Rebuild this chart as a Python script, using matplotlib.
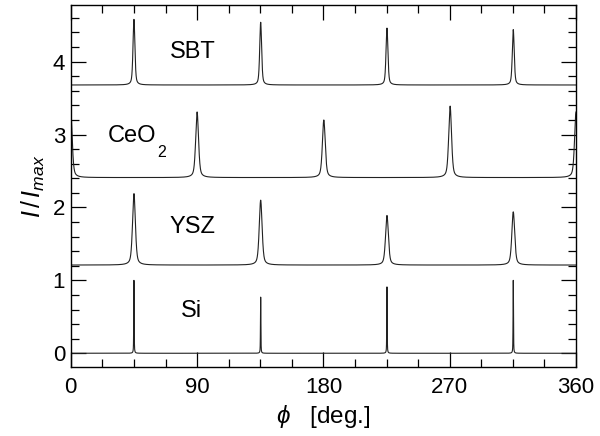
import numpy as np
import matplotlib
matplotlib.use("Agg")
import matplotlib.pyplot as plt
from matplotlib.ticker import MultipleLocator

plt.rcParams["font.family"] = "Liberation Sans"
plt.rcParams["mathtext.fontset"] = "custom"
plt.rcParams["mathtext.it"] = "Liberation Sans:italic"
plt.rcParams["mathtext.rm"] = "Liberation Sans"

# ---- peak data (deg, I/Imax above each baseline) ----
si_pos = [45.0, 135.3, 225.3, 315.3]
si_height = [1.00, 0.77, 0.91, 1.00]

ysz_pos = [45.0, 135.3, 225.3, 315.3]
ysz_height = [0.98, 0.89, 0.68, 0.73]

ceo2_pos = [0.0, 90.0, 180.3, 270.3, 360.0]
ceo2_height = [0.90, 0.90, 0.79, 0.98, 0.90]

sbt_pos = [45.0, 135.3, 225.3, 315.3]
sbt_height = [0.90, 0.86, 0.78, 0.76]

baselines = [0.0, 1.21, 2.41, 3.68]
fwhm = [0.35, 2.4, 2.4, 1.6]
labels = ["Si", "YSZ", "CeO", "SBT"]
label_x = [86, 87, 26, 87]
label_y = [0.58, 1.73, 2.98, 4.13]

phi = np.arange(0, 360.01, 0.05)


def scan(pos, height, base, w, eta=0.5):
    y = np.full_like(phi, base)
    for p, h in zip(pos, height):
        d = (phi - p) / (w / 2)
        lor = 1 / (1 + d ** 2)
        gau = np.exp(-np.log(2) * d ** 2)
        y += h * (eta * lor + (1 - eta) * gau)
    return y


series = [(si_pos, si_height), (ysz_pos, ysz_height),
          (ceo2_pos, ceo2_height), (sbt_pos, sbt_height)]

fig = plt.figure(figsize=(6, 4.36), dpi=100)
ax = fig.add_axes([0.118, 0.158, 0.842, 0.831])

for (pos, h), base, w in zip(series, baselines, fwhm):
    ax.plot(phi, scan(pos, h, base, w), color="#222222", lw=0.8)

for lab, x, y in zip(labels, label_x, label_y):
    ha = "left" if lab == "CeO" else "center"
    ax.text(x, y, lab, fontsize=17, ha=ha, va="center")
ax.text(61.9, 2.76, "2", fontsize=11.5, ha="left", va="center")

ax.set_xlim(0, 360)
ax.set_ylim(-0.19, 4.78)
ax.xaxis.set_major_locator(MultipleLocator(90))
ax.xaxis.set_minor_locator(MultipleLocator(22.5))
ax.yaxis.set_major_locator(MultipleLocator(1))
ax.yaxis.set_minor_locator(MultipleLocator(0.2))
ax.tick_params(which="both", direction="in", top=True, right=True,
               labelsize=16, width=0.9)
ax.tick_params(which="major", length=10.5)
ax.tick_params(which="minor", length=5.5)
ax.tick_params(axis="x", pad=7)
ax.tick_params(axis="y", pad=4)
for s in ax.spines.values():
    s.set_linewidth(1.0)

ax.set_xlabel(r"$\phi$   [deg.]", fontsize=17.5, labelpad=4)
ax.set_ylabel(r"$I\,/\,I_{max}$", fontsize=18, labelpad=4)

fig.savefig("out.png", dpi=100)
